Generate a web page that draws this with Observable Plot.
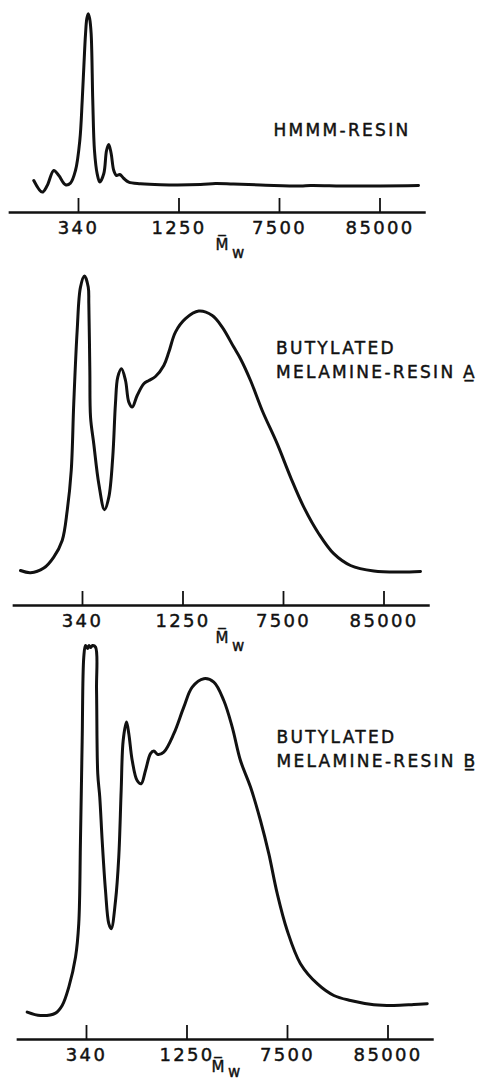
<!DOCTYPE html>
<html>
<head>
<meta charset="utf-8">
<script src="https://cdn.jsdelivr.net/npm/d3@7"></script>
<script src="https://cdn.jsdelivr.net/npm/@observablehq/plot@0.6"></script>
<style>
html, body { margin: 0; padding: 0; background: #fff; }
#chart { position: relative; width: 479px; height: 1082px; overflow: hidden; background: #fff; }
#chart svg { position: absolute; left: 0; }
</style>
</head>
<body>
<div id="chart"></div>
<script>
// Elution-position axis: tick positions (in tick units) and their molecular-weight labels
const tickPositions = [1, 2, 3, 4];
const tickLabels = ["340", "1250", "7500", "85000"];
const axisTitle = "M\u0305";
const axisTitleSub = "w";

// HMMM-resin trace (x: elution position in tick units, y: detector response, arbitrary units)
const hmmmX = [0.555, 0.639, 0.689, 0.754, 0.804, 0.871, 0.920, 0.970, 1.013, 1.037, 1.053, 1.070, 1.083, 1.097, 1.111, 1.126, 1.142, 1.159, 1.186, 1.212, 1.252, 1.279, 1.301, 1.325, 1.351, 1.378, 1.411, 1.451, 1.500, 1.617, 1.816, 2.214, 2.363, 2.542, 2.811, 3.209, 3.308, 3.706, 4.383];
const hmmmY = [16, 10.2, 13.5, 21, 18.5, 13.9, 14.7, 21, 36, 56, 72.7, 89.3, 97, 99.4, 97, 89.3, 56, 31, 19.3, 15.2, 19.5, 31, 34, 29.5, 21, 18.5, 19, 17, 15.2, 14.4, 13.9, 14, 14.5, 14.2, 13.8, 13.2, 13.5, 13.2, 13.5];

// Butylated melamine-resin A trace
const resinAX = [0.383, 0.483, 0.615, 0.714, 0.798, 0.848, 0.888, 0.913, 0.947, 0.980, 1.020, 1.057, 1.063, 1.073, 1.080, 1.112, 1.162, 1.219, 1.262, 1.301, 1.328, 1.351, 1.388, 1.428, 1.461, 1.495, 1.544, 1.610, 1.660, 1.726, 1.809, 1.859, 1.925, 2.025, 2.157, 2.291, 2.390, 2.505, 2.572, 2.672, 2.788, 2.937, 3.070, 3.202, 3.351, 3.500, 3.667, 3.899, 4.164, 4.363];
const resinAY = [17.5, 16.4, 18.7, 24.2, 32.5, 47.5, 67.5, 101, 137.5, 159.2, 164.7, 159.2, 150.8, 117.5, 94.2, 80.9, 60.9, 47.9, 54.2, 74.2, 101, 114.2, 118.4, 112.5, 101.7, 99.2, 105, 110.9, 112.5, 114.5, 120, 126.7, 136.7, 143.4, 147.2, 145, 139.2, 129.2, 123.4, 112.5, 97.5, 80.9, 64.2, 49.2, 35.9, 25.9, 20, 17.2, 16.7, 17];

// Butylated melamine-resin B trace
const resinBX = [0.410, 0.542, 0.692, 0.758, 0.824, 0.891, 0.923, 0.940, 0.957, 0.973, 0.990, 1.010, 1.025, 1.040, 1.060, 1.090, 1.100, 1.112, 1.132, 1.156, 1.189, 1.222, 1.246, 1.289, 1.321, 1.345, 1.365, 1.398, 1.421, 1.455, 1.504, 1.544, 1.587, 1.637, 1.670, 1.710, 1.769, 1.869, 1.968, 2.052, 2.167, 2.267, 2.366, 2.450, 2.532, 2.632, 2.731, 2.814, 2.898, 2.997, 3.129, 3.296, 3.461, 3.627, 3.859, 4.058, 4.257, 4.390];
const resinBY = [13.7, 12, 13.2, 17, 26.2, 41.2, 57.9, 99.5, 149.5, 191.2, 197, 195.5, 197, 196, 197, 196.2, 174.5, 132.9, 121.2, 99.5, 74.5, 57.9, 55.4, 69.5, 91.2, 124.5, 149.5, 158.7, 152.9, 139.5, 129.5, 127.9, 134.5, 142.9, 144.2, 142.5, 143.7, 152.9, 166.2, 176.2, 180.4, 178.7, 169.5, 156.2, 139.5, 126.2, 109.5, 92.9, 72.9, 54.5, 37.9, 27.9, 22, 19.5, 17.4, 17, 17.5, 17.9];

const seriesNames = ["HMMM-RESIN", "BUTYLATED\nMELAMINE-RESIN A\u0332", "BUTYLATED\nMELAMINE-RESIN B\u0332"];

const ink = "#111";
const W = 479;
const axisWidth = 417.08;
const xDomain = [0.31, 4.46];
const fontStack = "'DejaVu Sans', 'Liberation Sans', sans-serif";

const panels = [
  {x: hmmmX, y: hmmmY, name: seriesNames[0], top: 0, height: 258, marginTop: 12, marginBottom: 46, marginLeft: 8.65, yMax: 100, labelX: 2.94, labelY: 38.5, mwX: 2.44, mDy: 37, wDy: 45},
  {x: resinAX, y: resinAY, name: seriesNames[1], top: 258, height: 394, marginTop: 17, marginBottom: 47, marginLeft: 12.65, yMax: 165, labelX: 2.925, labelY: 114, mwX: 2.40, mDy: 37, wDy: 45},
  {x: resinBX, y: resinBY, name: seriesNames[2], top: 633, height: 449, marginTop: 10, marginBottom: 43, marginLeft: 16.65, yMax: 198, labelX: 2.89, labelY: 136.5, mwX: 2.32, mDy: 32, wDy: 37}
];

const tickData = tickPositions.map((p, i) => ({p, label: tickLabels[i]}));
const chart = document.getElementById("chart");

for (const pn of panels) {
  const data = pn.x.map((v, i) => ({x: v, y: pn.y[i]}));
  const svg = Plot.plot({
    width: W,
    height: pn.height,
    marginTop: pn.marginTop,
    marginBottom: pn.marginBottom,
    marginLeft: pn.marginLeft,
    marginRight: W - pn.marginLeft - axisWidth,
    x: {domain: xDomain, axis: null},
    y: {domain: [0, pn.yMax], axis: null},
    style: {background: "transparent", overflow: "visible", fontFamily: fontStack, color: ink},
    marks: [
      Plot.ruleY([0], {stroke: ink, strokeWidth: 2.4}),
      Plot.ruleX(tickData, {x: "p", y1: 0, y2: 0, insetTop: -14, stroke: ink, strokeWidth: 1.8}),
      Plot.text(tickData, {x: "p", y: 0, text: "label", dy: 21, lineAnchor: "bottom", textAnchor: "middle", fontSize: 18, fill: ink, stroke: ink, strokeWidth: 0.45, style: "letter-spacing:2.2px"}),
      Plot.line(data, {x: "x", y: "y", curve: "catmull-rom", stroke: ink, strokeWidth: 3, strokeLinejoin: "round", strokeLinecap: "round"}),
      Plot.text([pn.name], {x: pn.labelX, y: pn.labelY, text: d => d, textAnchor: "start", lineAnchor: "bottom", lineHeight: 1.41, fontSize: 17, fill: ink, stroke: ink, strokeWidth: 0.45}),
      Plot.text([axisTitle], {x: pn.mwX, y: 0, text: d => d, dy: pn.mDy, lineAnchor: "bottom", textAnchor: "middle", fontSize: 15, fill: ink, stroke: ink, strokeWidth: 0.4}),
      Plot.text([axisTitleSub], {x: pn.mwX, y: 0, text: d => d, dx: 16, dy: pn.wDy, lineAnchor: "bottom", textAnchor: "middle", fontSize: 15, fill: ink, stroke: ink, strokeWidth: 0.4})
    ]
  });
  svg.style.top = pn.top + "px";
  svg.querySelectorAll("text").forEach(t => {
    if (!t.closest("[style*='letter-spacing']")) t.style.letterSpacing = "2.3px";
  });
  chart.appendChild(svg);
}
</script>
</body>
</html>
